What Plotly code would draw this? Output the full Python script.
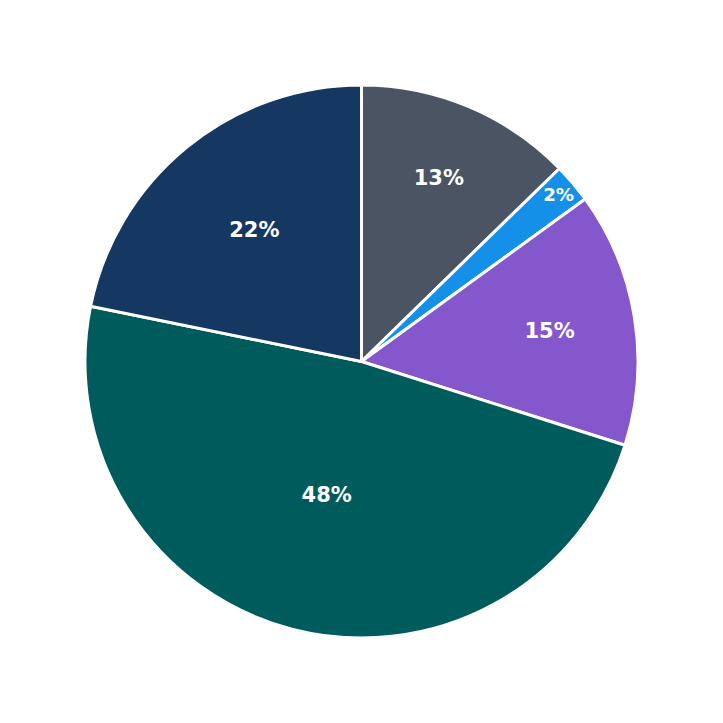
import plotly.graph_objects as go

labels = ["A", "B", "C", "D", "E"]
values = [12.7, 2.3, 14.9, 48.3, 21.8]
colors = ["#4a5463", "#1490e8", "#8557cc", "#005c5c", "#143862"]

fig = go.Figure(go.Pie(
    labels=labels,
    values=values,
    sort=False,
    direction="clockwise",
    rotation=0,
    marker=dict(colors=colors, line=dict(color="white", width=3)),
    texttemplate="%{percent:.0%}",
    textposition="inside",
    insidetextorientation="horizontal",
    textfont=dict(family="DejaVu Sans", size=21, color="white", weight="bold"),
    hoverinfo="label+percent",
))

fig.update_layout(
    width=723, height=723,
    margin=dict(l=77, r=93, t=77, b=93),
    showlegend=False,
    paper_bgcolor="white",
)

fig.write_html("out.html")
